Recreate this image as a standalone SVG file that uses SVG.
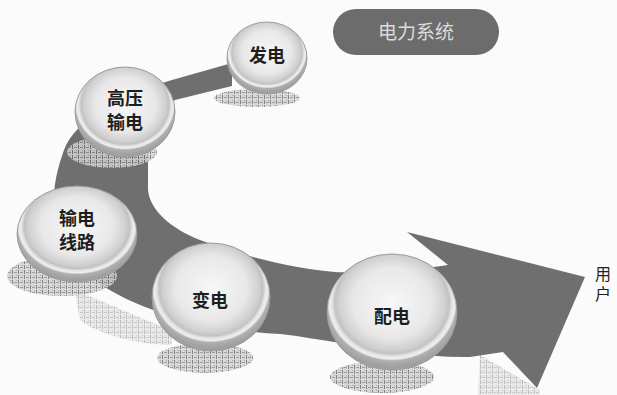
<svg xmlns="http://www.w3.org/2000/svg" width="617" height="395" viewBox="0 0 617 395">
<style>
.lbl{font-family:"Noto Sans CJK SC","Noto Sans CJK TC",sans-serif;font-size:18px;font-weight:bold;fill:#1e1e1e;text-anchor:middle}
.orb{fill:url(#orb);stroke:#9c9c9c;stroke-width:1}
.shd{fill:url(#hatch);opacity:0.85}
.soft{fill:url(#hatch);opacity:0.45}
</style>
<defs>
<radialGradient id="orb" cx="50%" cy="42%" r="55%">
<stop offset="0" stop-color="#f7f7f7"/>
<stop offset="0.55" stop-color="#e8e8e8"/>
<stop offset="0.74" stop-color="#d0d0d0"/>
<stop offset="0.8" stop-color="#c2c2c2"/>
<stop offset="0.84" stop-color="#e4e4e4"/>
<stop offset="0.88" stop-color="#efefef"/>
<stop offset="0.91" stop-color="#b0b0b0"/>
<stop offset="1" stop-color="#a0a0a0"/>
</radialGradient>
<pattern id="hatch" width="6" height="5" patternUnits="userSpaceOnUse">
<rect width="6" height="5" fill="#d2d2d2"/>
<rect x="0" y="0" width="1" height="4" fill="#6e6e6e"/>
<rect x="2" y="2" width="3" height="1" fill="#8a8a8a"/>
<rect x="4" y="0" width="1" height="1" fill="#9a9a9a"/>
</pattern>
</defs>
<rect width="617" height="395" fill="#fbfbfb"/>

<g id="soft-shadows">
<path class="soft" d="M75,290 C100,300 140,318 172,330 L172,345 C140,345 100,335 80,320 Z"/>
<path class="soft" d="M480,355 L540,390 L540,395 L478,395 Z"/>
</g>

<g id="connectors">
<path id="flow-arrow" fill="#6f6f6f" d="M232,63 L172,80 C120,95 75,120 64,150 C55,175 52,195 55,215 C58,255 90,285 145,307 C180,320 230,332 280,334 C300,336 320,340 340,343 C380,350 430,358 470,357 L503,352 L537,388 L585,277 L407,232 L448,265 C400,272 360,273 335,272 C290,268 240,255 200,240 C170,228 150,210 148,190 L148,160 C150,130 160,110 175,100 L232,86 Z"/>
</g>

<g id="shadows">
<ellipse class="shd" cx="257" cy="98" rx="43" ry="9"/>
<ellipse class="shd" cx="112" cy="152" rx="45" ry="16"/>
<ellipse class="shd" cx="62" cy="276" rx="55" ry="20"/>
<ellipse class="shd" cx="205" cy="358" rx="48" ry="15"/>
<ellipse class="shd" cx="382" cy="377" rx="52" ry="16"/>
</g>

<g id="node-fadian">
<ellipse class="orb" cx="267" cy="58" rx="40" ry="36"/>
<text class="lbl" x="267" y="62">发电</text>
</g>
<g id="node-gaoya">
<ellipse class="orb" cx="125" cy="112" rx="50" ry="45"/>
<text class="lbl"><tspan x="125" y="105">高压</tspan><tspan x="125" y="129">输电</tspan></text>
</g>
<g id="node-xianlu">
<ellipse class="orb" cx="77" cy="234" rx="60" ry="48"/>
<text class="lbl"><tspan x="77" y="225">输电</tspan><tspan x="77" y="249">线路</tspan></text>
</g>
<g id="node-biandian">
<ellipse class="orb" cx="211" cy="297" rx="59" ry="54"/>
<text class="lbl" x="210" y="307">变电</text>
</g>
<g id="node-peidian">
<ellipse class="orb" cx="392" cy="312" rx="65" ry="58"/>
<text class="lbl" x="392" y="323">配电</text>
</g>

<g id="title">
<rect x="333" y="9" width="166" height="46" rx="23" fill="#6c6c6c"/>
<text x="416" y="39" font-family="Noto Sans CJK SC, sans-serif" font-size="19" fill="#dcdcdc" text-anchor="middle">电力系统</text>
</g>

<g id="user">
<text x="603" y="266" font-family="Noto Sans CJK SC, sans-serif" font-size="16" fill="#222" writing-mode="vertical-rl" letter-spacing="4">用户</text>
</g>
</svg>
